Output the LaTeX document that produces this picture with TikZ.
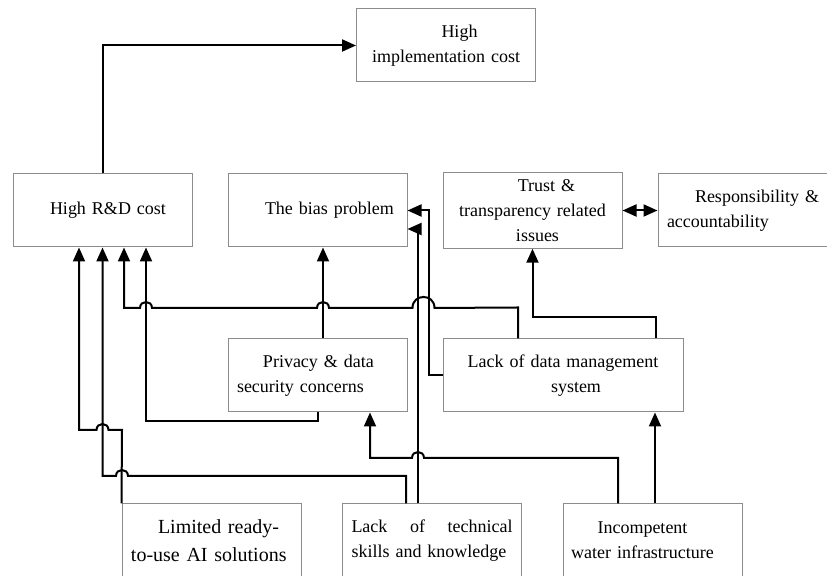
\documentclass[tikz,border=0pt]{standalone}
\usepackage{fontspec}
\setmainfont{Liberation Serif}
\usetikzlibrary{arrows.meta, calc}

\begin{document}
\begin{tikzpicture}[x=0.5pt, y=-0.5pt, >={Triangle[length=7pt, width=6pt]},
  font=\fontsize{9}{12.5}\selectfont,
  box/.style={draw=black!45, line width=0.5pt, minimum width=89.5pt, minimum height=36.5pt,
              inner xsep=4.5pt, text width=80.5pt, align=center},
  lbox/.style={box, align=left},
  conn/.style={line width=1pt}]
\useasboundingbox (0,0) rectangle (827,576);

% ---------- top row ----------
\node[box]  (impl) at (446,45.5)    {\hspace*{13.5pt}High\\implementation cost};
\node[lbox] (rd)   at (102.5,210.5) {\hspace*{14pt}High R\&D cost};
\node[lbox] (bias) at (317.5,210.5) {\hspace*{14pt}The bias problem};
\node[box]  (trust) at (532.5,210.5) {\hspace*{14pt}Trust \&\\transparency related\\\hspace*{5pt}issues};
\node[lbox] (resp) at (747.5,210.5) {\hspace*{14pt}Responsibility \&\\accountability};

% ---------- middle row ----------
\node[lbox] (privacy) at (317.5,375.5) {\hspace*{13pt}Privacy \& data\\security concerns};
\node[box, minimum width=120pt, text width=111pt] (lack) at (563,375.5) {Lack of data management\\\hspace*{13pt}system};

% ---------- bottom row ----------
\node[lbox, font=\fontsize{10}{14}\selectfont] (limited) at (211.5,540.5) {\hspace*{13.5pt}Limited ready-\\to-use AI solutions};
\node[lbox] (tech)   at (432,540.5)   {\makebox[80.5pt][s]{Lack\hfill of\hfill technical}\\skills and knowledge};
\node[box]  (incomp) at (652.5,540.5) {\hspace*{-10pt}Incompetent\\\hspace*{-10pt}water infrastructure};

% ---------- links ----------
\draw[conn, ->] (rd.north) |- (impl.west);
\draw[conn, <->] (trust.east) -- (resp.west);
\draw[conn, ->] ($(privacy.north)+(5.5,0)$) -- ($(bias.south)+(5.5,0)$);

% lack of data -> R&D cost, hopping over three crossings
\draw[conn, ->] ($(lack.north)+(-45,0)$) -- ++(0,-31) -- (434.5,308)
  .. controls (434.5,293.3) and (412.5,293.3) .. (412.5,308) -- (329,308)
  .. controls (329,300) and (317,300) .. (317,308) -- (152,308)
  .. controls (152,300) and (140,300) .. (140,308) -| ($(rd.south)+(21.5,0)$);

\draw[conn, ->] (privacy.south) -- ++(0,9) -| ($(rd.south)+(43.5,0)$);
\draw[conn, ->] (lack.west) -- ++(-14,0) |- (bias.east);
\draw[conn, ->] ($(tech.north)+(-14,0)$) |- ($(bias.east)+(0,18.5)$);
\draw[conn, ->] ($(lack.north)+(93,0)$) -- ++(0,-21) -| (trust.south);

% bottom row -> R&D cost
\draw[conn, ->] (limited.north west) -- (122,430) -- (108.5,430)
  .. controls (108.5,422) and (96.5,422) .. (96.5,430) -| ($(rd.south)+(-23.5,0)$);
\draw[conn, ->] ($(tech.north)+(-26,0)$) -- (406,476) -- (128,476)
  .. controls (128,468) and (116,468) .. (116,476) -| (rd.south);

% incompetent infrastructure
\draw[conn, ->] ($(incomp.north)+(-34.5,0)$) -- (618,458) -- (424,458)
  .. controls (424,450) and (412,450) .. (412,458) -| ($(privacy.south)+(52.5,0)$);
\draw[conn, ->] ($(incomp.north)+(2.5,0)$) -- ($(lack.south)+(92,0)$);

\end{tikzpicture}
\end{document}
